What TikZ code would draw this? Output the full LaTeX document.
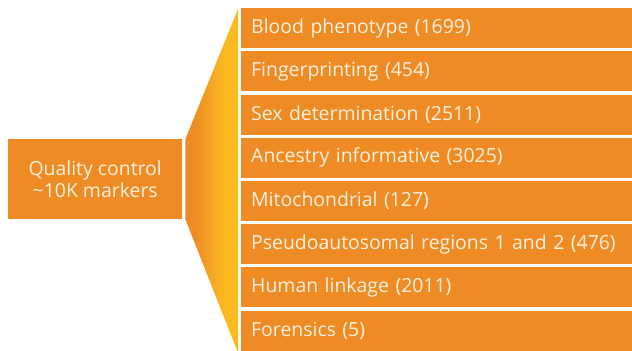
\documentclass[tikz,border=0pt]{standalone}
\usepackage{fontspec}
\setmainfont{Open Sans}
\usetikzlibrary{calc}

\definecolor{boxorange}{HTML}{EE8B24}
\definecolor{funnelyellow}{HTML}{FBBA20}
\definecolor{labelcream}{HTML}{FDF1DE}

\pgfdeclarehorizontalshading{funnelshade}{100bp}{color(0bp)=(boxorange);
  color(33bp)=(boxorange); color(63bp)=(funnelyellow); color(100bp)=(funnelyellow)}

\tikzset{
  catbox/.style={fill=boxorange, text=labelcream, anchor=north west,
    minimum height=40bp, inner xsep=0pt, inner ysep=0pt,
    text width=391bp, align=left, font=\fontsize{19.5}{24}\selectfont,
    execute at begin node=\hspace*{10bp}},
  qcbox/.style={fill=boxorange, text=labelcream, anchor=north west,
    minimum width=174bp, minimum height=80bp, inner sep=0pt,
    align=center, font=\fontsize{19.5}{23}\selectfont}
}

\begin{document}
\begin{tikzpicture}[x=1bp, y=-1bp]
    \useasboundingbox (0,0) rectangle (632,350);

    \node [qcbox] (qc) at (8, 139) {Quality control\\\textasciitilde10K markers};

    \foreach \label [count=\i] in {Blood phenotype (1699), Fingerprinting (454),
        Sex determination (2511), Ancestry informative (3025), Mitochondrial (127),
        Pseudoautosomal regions 1 and 2 (476), Human linkage (2011), Forensics (5)}
      \node [catbox] (cat\i) at (241, {8 + 43.2*(\i-1)}) {\label};

    % funnel between the two
    \shade [shading=funnelshade]
      ($(qc.north east)+(3,0)$) -- ($(cat1.north west)+(-3,1)$)
      -- ($(cat8.south west)+(-3,2)$) -- ($(qc.south east)+(3,0)$) -- cycle;
  \end{tikzpicture}
\end{document}
